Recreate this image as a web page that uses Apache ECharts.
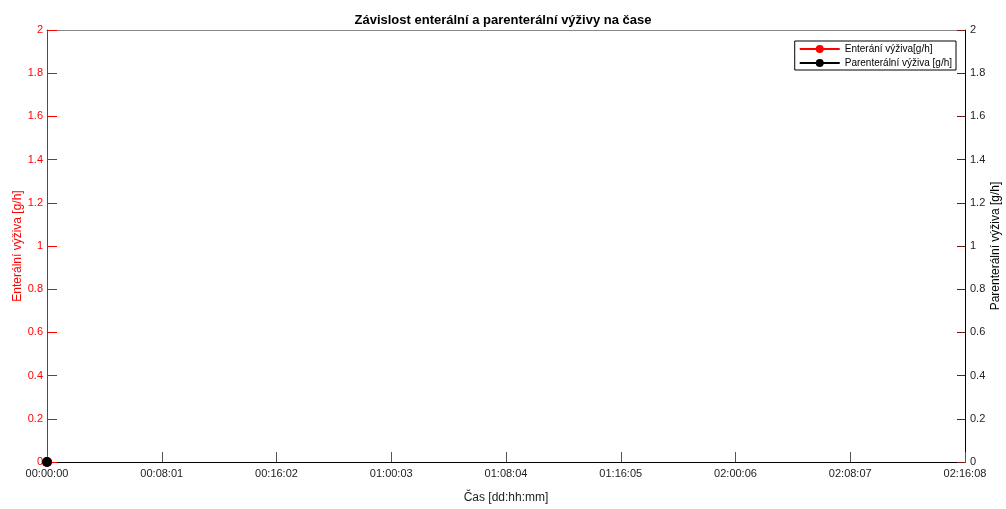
<!DOCTYPE html>
<html><head><meta charset="utf-8">
<script src="https://cdn.jsdelivr.net/npm/echarts@6/dist/echarts.min.js"></script>
<style>html,body{margin:0;padding:0;background:#fff}#c{width:1006px;height:509px}</style>
</head><body><div id="c"></div>
<script>
var xTickLabels = ['00:00:00','00:08:01','00:16:02','01:00:03','01:08:04','01:16:05','02:00:06','02:08:07','02:16:08'];
var xIndex = [0];
var enteralValues = [0];
var parenteralValues = [0];
var yTicks = [0, 0.2, 0.4, 0.6, 0.8, 1, 1.2, 1.4, 1.6, 1.8, 2];

var chart = echarts.init(document.getElementById('c'));
var font = 'Liberation Sans, Arial, sans-serif';
chart.setOption({
  animation: false,
  title: {text: 'Závislost enterální a parenterální výživy na čase', left: 'center', top: 9,
    textStyle: {fontFamily: font, fontSize: 13, fontWeight: 'bold', color: '#000'}},
  grid: {left: 47, right: 41, top: 30, bottom: 47, containLabel: false, outerBoundsMode: 'none'},
  legend: {
    right: 50, top: 41, orient: 'vertical', itemGap: 4, itemWidth: 40, itemHeight: 10,
    padding: [3, 4, 2, 4], borderColor: '#000', borderWidth: 1, borderRadius: 0, backgroundColor: '#fff',
    textStyle: {fontFamily: font, fontSize: 10, color: '#000'},
    data: ['Enterání výživa[g/h]', 'Parenterální výživa [g/h]']
  },
  xAxis: [{
    type: 'value', min: 0, max: xTickLabels.length - 1, interval: 1,
    name: 'Čas [dd:hh:mm]', nameLocation: 'middle', nameGap: 30, nameMoveOverlap: false,
    nameTextStyle: {fontFamily: font, fontSize: 12, color: '#222'},
    axisLine: {onZero: false, lineStyle: {color: '#000', width: 1}},
    axisTick: {inside: true, length: 10, lineStyle: {color: '#555'}},
    axisLabel: {formatter: function(v){ return xTickLabels[Math.round(v)]; }, fontFamily: font, fontSize: 11, color: '#222', margin: 6},
    splitLine: {show: false}
  }, {
    type: 'value', position: 'top', min: 0, max: xTickLabels.length - 1, interval: 1,
    axisLine: {onZero: false, lineStyle: {color: '#888', width: 1}},
    axisTick: {show: false}, axisLabel: {show: false}, splitLine: {show: false}
  }],
  yAxis: [{
    type: 'value', min: 0, max: 2, interval: 0.2, position: 'left',
    name: 'Enterální výživa [g/h]', nameLocation: 'middle', nameGap: 23, nameMoveOverlap: false,
    nameTextStyle: {fontFamily: font, fontSize: 12, color: '#ff0000'},
    axisLine: {show: true, onZero: false, lineStyle: {color: '#ff0000', width: 1}},
    axisTick: {show: true, inside: true, length: 10, lineStyle: {color: '#ff0000', width: 1}},
    axisLabel: {fontFamily: font, fontSize: 11, color: '#ff0000', margin: 4,
      formatter: function(v){ return String(Math.round(v*10)/10); }},
    splitLine: {show: false}
  }, {
    type: 'value', min: 0, max: 2, interval: 0.2, position: 'right',
    name: 'Parenterální výživa [g/h]', nameLocation: 'middle', nameGap: 25, nameMoveOverlap: false,
    nameTextStyle: {fontFamily: font, fontSize: 12, color: '#000'},
    axisLine: {show: true, onZero: false, lineStyle: {color: '#000', width: 1}},
    axisTick: {show: true, inside: true, length: 8, lineStyle: {color: '#6b1a1a', width: 1}},
    axisLabel: {fontFamily: font, fontSize: 11, color: '#222', margin: 5,
      formatter: function(v){ return String(Math.round(v*10)/10); }},
    splitLine: {show: false}
  }],
  series: [{
    name: 'Enterání výživa[g/h]', type: 'line', yAxisIndex: 0, symbol: 'circle', symbolSize: 10,
    itemStyle: {color: '#ff0000'}, lineStyle: {color: '#ff0000', width: 2},
    data: xIndex.map(function(x, i){ return [x, enteralValues[i]]; }), clip: false, z: 3
  }, {
    name: 'Parenterální výživa [g/h]', type: 'line', yAxisIndex: 1, symbol: 'circle', symbolSize: 10,
    itemStyle: {color: '#000'}, lineStyle: {color: '#000', width: 2},
    data: xIndex.map(function(x, i){ return [x, parenteralValues[i]]; }), clip: false, z: 4
  }]
});
</script></body></html>
